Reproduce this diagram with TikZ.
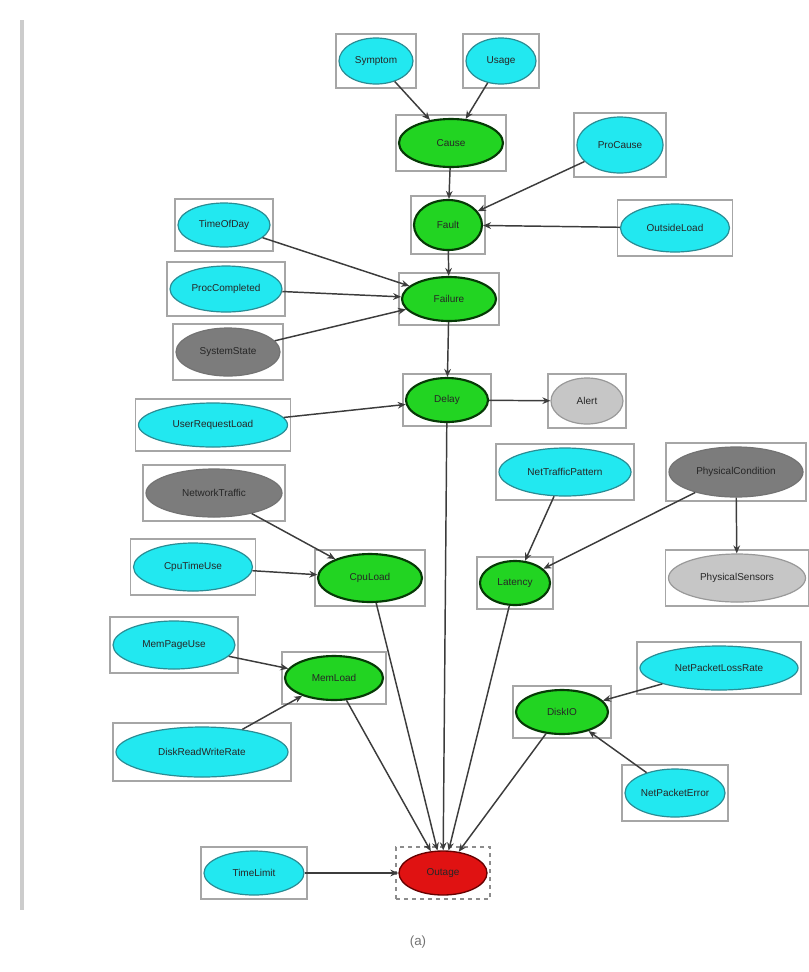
\documentclass[tikz,border=0pt]{standalone}
\usepackage{fontspec}
\setmainfont{Liberation Sans}
\usetikzlibrary{shapes.geometric,arrows.meta}

\definecolor{cyanfill}{HTML}{22E8F0}
\definecolor{cyanedge}{HTML}{2A8C94}
\definecolor{greenfill}{HTML}{22D422}
\definecolor{greenedge}{HTML}{063A06}
\definecolor{darkgrey}{HTML}{7C7C7C}
\definecolor{lightgrey}{HTML}{C6C6C6}
\definecolor{redfill}{HTML}{E01212}
\definecolor{edgecol}{HTML}{3C3C3C}

\tikzset{
  frame/.style={rectangle, draw=black!35, fill=white, line width=0.8pt, inner sep=0pt},
  redframe/.style={rectangle, draw=black!45, dashed, fill=white, line width=0.8pt, inner sep=0pt},
  base/.style={ellipse, inner sep=0pt, font=\fontsize{7.5}{8}\selectfont, text=black!85},
  cyannode/.style={base, fill=cyanfill, draw=cyanedge, line width=0.9pt},
  greennode/.style={base, fill=greenfill, draw=greenedge, line width=1.6pt},
  greynode/.style={base, fill=darkgrey, draw=black!55, line width=0.9pt},
  palenode/.style={base, fill=lightgrey, draw=black!40, line width=0.9pt},
  rednode/.style={base, fill=redfill, draw=black!60!red, line width=1pt},
  link/.style={draw=edgecol, line width=1.1pt, -{Stealth[length=6pt,width=5pt]}},
}

% #1 frame style, #2 ellipse style, #3 name, #4 x, #5 y, #6 width, #7 height, #8 label
\newcommand\bnnode[8]{%
  \node[#1, minimum width={#6*0.75pt}, minimum height={#7*0.75pt}] (#3f) at (#4,#5) {};
  \node[#2, minimum width={(#6-6)*0.75pt}, minimum height={(#7-8)*0.75pt}] (#3) at (#4,#5) {#8};}

\begin{document}
\begin{tikzpicture}[x=0.75pt, y=-0.75pt]
\useasboundingbox (0,0) rectangle (809,972);

% side rule
\draw[line width=3pt, color=black!20] (22,20) -- (22,910);

% network nodes
\bnnode{frame}{cyannode}{n1}{376}{61}{80}{54}{Symptom}
\bnnode{frame}{cyannode}{n2}{501}{61}{76}{54}{Usage}
\bnnode{frame}{greennode}{g1}{451}{143}{110}{56}{Cause}
\bnnode{frame}{cyannode}{n5}{620}{145}{92}{64}{ProCause}
\bnnode{frame}{greennode}{g2}{448}{225}{74}{58}{Fault}
\bnnode{frame}{cyannode}{n6}{675}{228}{115}{56}{OutsideLoad}
\bnnode{frame}{cyannode}{n8}{224}{225}{98}{52}{TimeOfDay}
\bnnode{frame}{cyannode}{n9}{226}{289}{118}{54}{ProcCompleted}
\bnnode{frame}{greynode}{n10}{228}{352}{110}{56}{SystemState}
\bnnode{frame}{greennode}{g3}{449}{299}{100}{52}{Failure}
\bnnode{frame}{cyannode}{n13}{213}{425}{155}{52}{UserRequestLoad}
\bnnode{frame}{greennode}{g4}{447}{400}{88}{52}{Delay}
\bnnode{frame}{palenode}{n12}{587}{401}{78}{54}{Alert}
\bnnode{frame}{cyannode}{n14}{565}{472}{138}{56}{NetTrafficPattern}
\bnnode{frame}{greynode}{n15}{736}{472}{140}{58}{PhysicalCondition}
\bnnode{frame}{palenode}{n16}{737}{578}{143}{56}{PhysicalSensors}
\bnnode{frame}{greynode}{n17}{214}{493}{142}{56}{NetworkTraffic}
\bnnode{frame}{cyannode}{n18}{193}{567}{125}{56}{CpuTimeUse}
\bnnode{frame}{greennode}{g19}{370}{578}{110}{56}{CpuLoad}
\bnnode{frame}{greennode}{g20}{515}{583}{76}{52}{Latency}
\bnnode{frame}{cyannode}{n21}{174}{645}{128}{56}{MemPageUse}
\bnnode{frame}{greennode}{g22}{334}{678}{104}{52}{MemLoad}
\bnnode{frame}{cyannode}{n23}{202}{752}{178}{58}{DiskReadWriteRate}
\bnnode{frame}{greennode}{g24}{562}{712}{98}{52}{DiskIO}
\bnnode{frame}{cyannode}{n25}{719}{668}{164}{52}{NetPacketLossRate}
\bnnode{frame}{cyannode}{n26}{675}{793}{106}{56}{NetPacketError}
\bnnode{redframe}{rednode}{r}{443}{873}{94}{52}{Outage}
\bnnode{frame}{cyannode}{n28}{254}{873}{106}{52}{TimeLimit}

% dependencies
\draw[link] (n1) -- (g1);
\draw[link] (n2) -- (g1);
\draw[link] (g1) -- (g2);
\draw[link] (n5) -- (g2);
\draw[link] (n6) -- (g2);
\draw[link] (g2) -- (g3);
\draw[link] (n8) -- (g3);
\draw[link] (n9) -- (g3);
\draw[link] (n10) -- (g3);
\draw[link] (g3) -- (g4);
\draw[link] (n13) -- (g4);
\draw[link] (g4) -- (n12);
\draw[link] (n14) -- (g20);
\draw[link] (n15) -- (g20);
\draw[link] (n15) -- (n16);
\draw[link] (n17) -- (g19);
\draw[link] (n18) -- (g19);
\draw[link] (n21) -- (g22);
\draw[link] (n23) -- (g22);
\draw[link] (n25) -- (g24);
\draw[link] (n26) -- (g24);
\draw[link] (g4) -- (r);
\draw[link] (g19) -- (r);
\draw[link] (g20) -- (r);
\draw[link] (g22) -- (r);
\draw[link] (g24) -- (r);
\draw[link] (n28) -- (r);

% caption
\node[font=\fontsize{10}{12}\selectfont, text=black!55] (cap) at (418,942) {(a)};
\end{tikzpicture}
\end{document}
